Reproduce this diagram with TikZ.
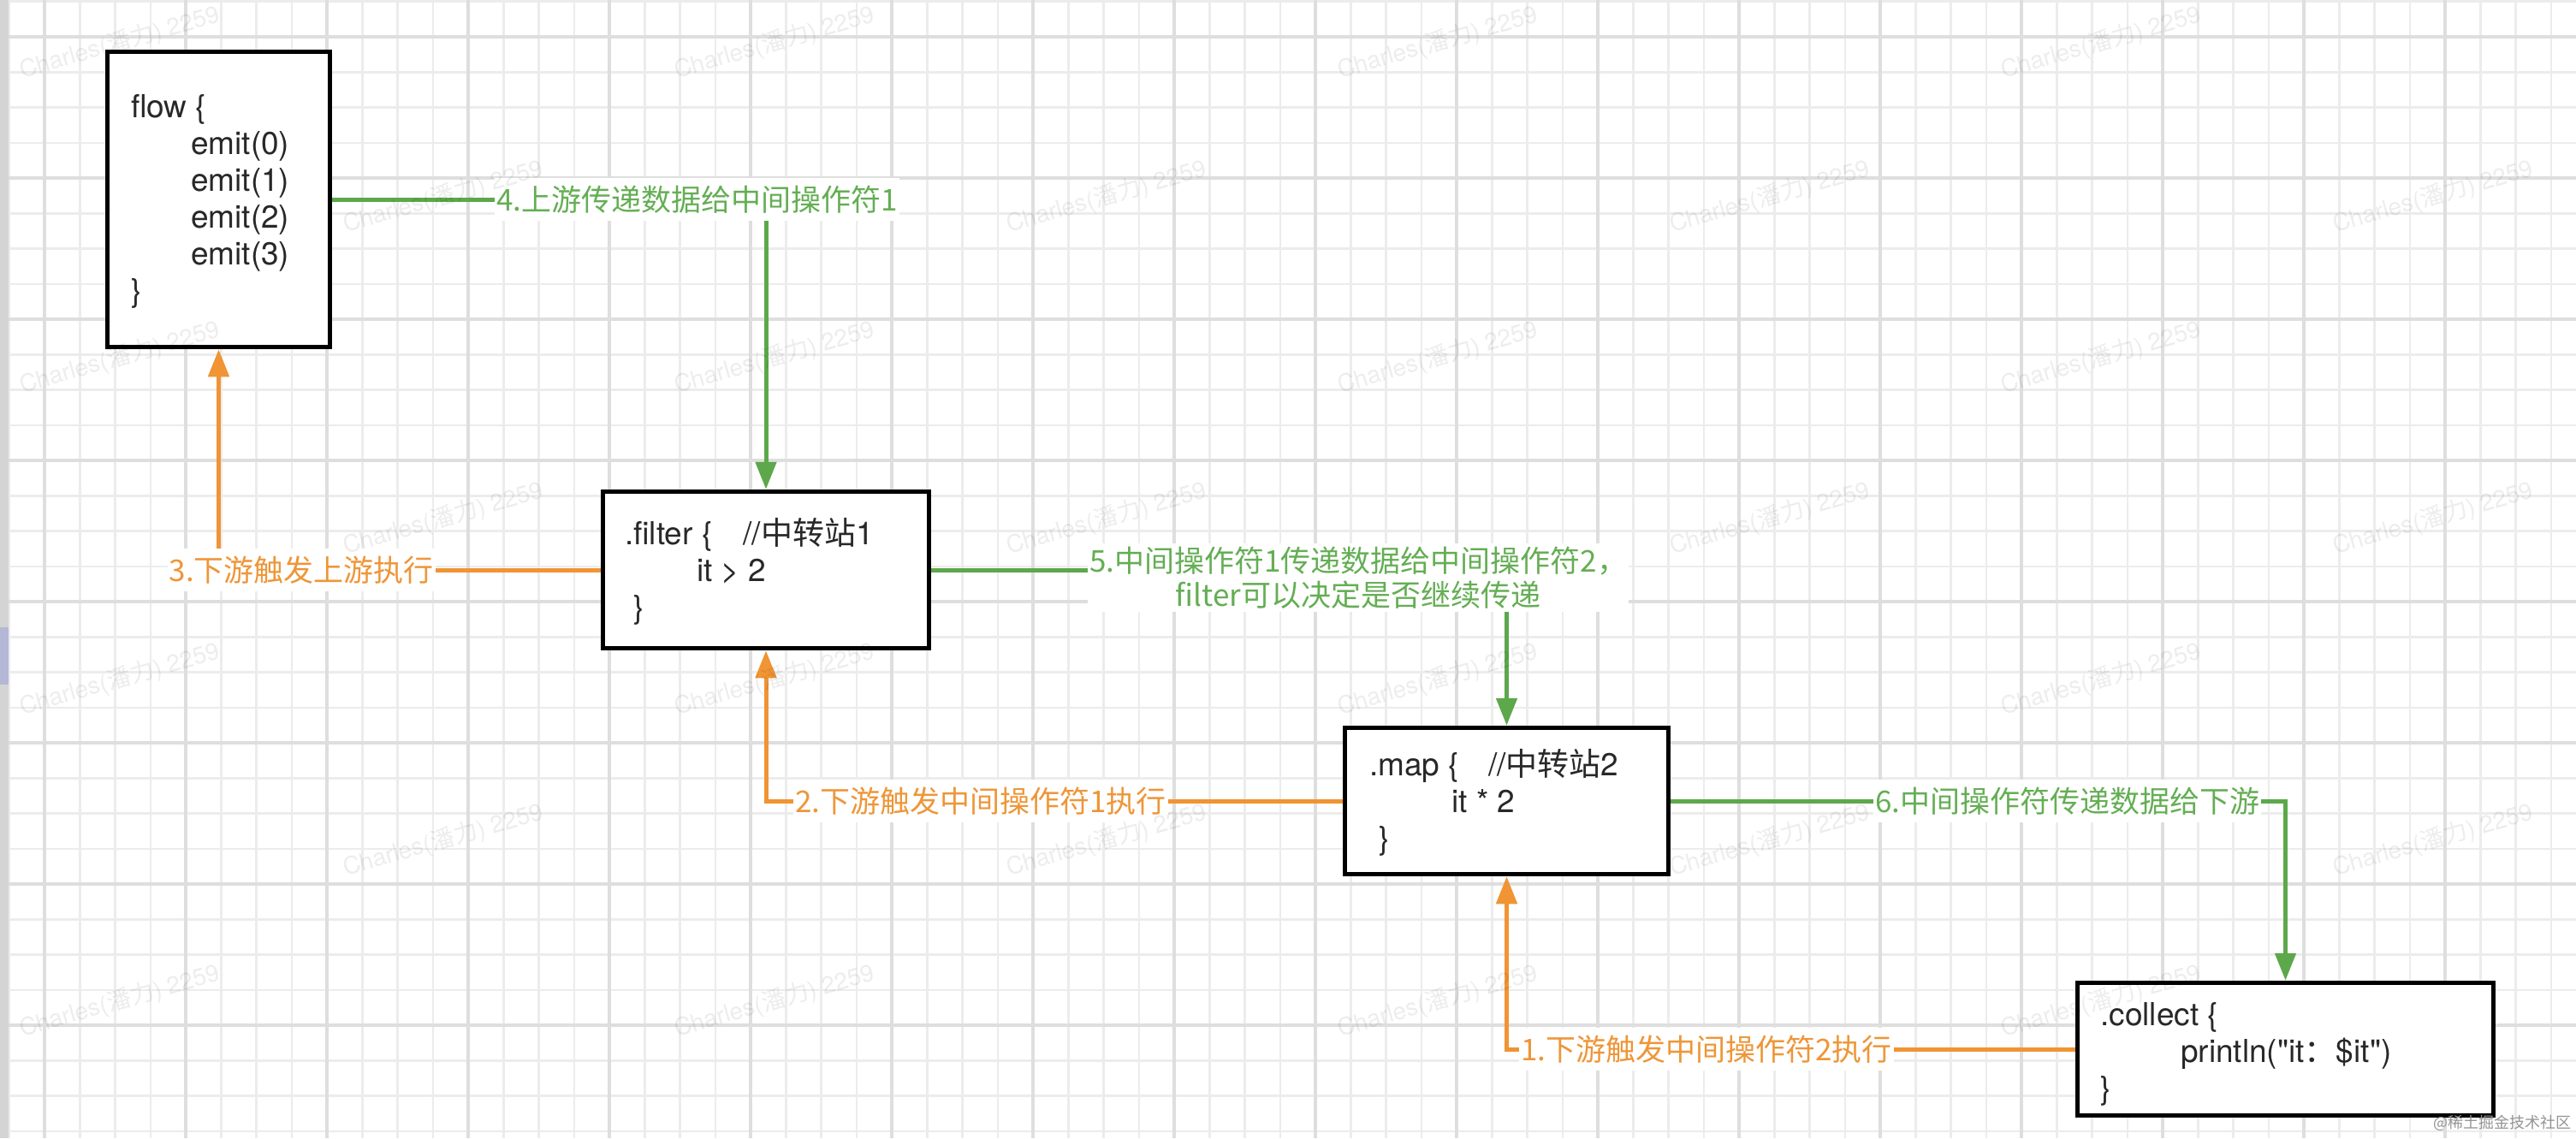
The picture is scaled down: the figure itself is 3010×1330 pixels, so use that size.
\documentclass[tikz,border=0pt]{standalone}
\usepackage{fontspec}
\setmainfont{TeX Gyre Heros}
\newfontfamily\cjk{Noto Sans CJK SC}
\font\qfont="TeX Gyre Heros" at 37pt
\usetikzlibrary{arrows.meta}
\definecolor{edgegreen}{RGB}{92,168,74}
\definecolor{edgeorange}{RGB}{240,148,52}
\definecolor{lblgreen}{RGB}{100,174,84}
\definecolor{lblorange}{RGB}{238,150,56}
\definecolor{gridminor}{RGB}{236,236,236}
\definecolor{gridmajor}{RGB}{222,222,222}
\definecolor{codetext}{RGB}{40,40,40}
\definecolor{stripgray}{RGB}{212,212,212}
\definecolor{stripblue}{RGB}{180,184,214}
\begin{document}
\begin{tikzpicture}[x=1pt, y=-1pt,
  codebox/.style={draw=black, line width=5.5pt, fill=white, inner sep=0pt},
  code/.style={anchor=base west, inner sep=0pt, text=codetext, font=\fontsize{37}{43}\selectfont},
  gline/.style={draw=edgegreen, line width=5pt, -{Triangle[width=24pt,length=32pt]}},
  oline/.style={draw=edgeorange, line width=5pt, -{Triangle[width=24pt,length=32pt]}},
  lbl/.style={fill=white, inner xsep=2pt, inner ysep=9pt, font=\cjk\fontsize{35}{40}\selectfont},
  wm/.style={text=black, text opacity=0.07, font=\fontsize{28}{30}\selectfont, rotate=16, inner sep=0pt},
]
\useasboundingbox (0,0) rectangle (3010,1330);
\clip (0,0) rectangle (3010,1330);
\fill[white] (0,0) rectangle (3010,1330);
% grid
\foreach \i in {0,...,72} \draw[gridminor, line width=2.5pt] ({10.75+41.25*\i},0) -- ({10.75+41.25*\i},1330);
\foreach \i in {0,...,32} \draw[gridminor, line width=2.5pt] (0,{1.75+41.25*\i}) -- (3010,{1.75+41.25*\i});
\foreach \i in {0,...,17} \draw[gridmajor, line width=3.5pt] ({52+165*\i},0) -- ({52+165*\i},1330);
\foreach \i in {0,...,7} \draw[gridmajor, line width=3.5pt] (0,{43+165*\i}) -- (3010,{43+165*\i});
% left strip
\fill[stripgray] (0,0) rectangle (10,1330);
\fill[stripblue] (0,733) rectangle (10,800);

% boxes
\node[codebox, minimum width=260pt, minimum height=345pt] (flow) at (255.5,233) {};
\node[codebox, minimum width=381pt, minimum height=183pt] (filter) at (895,666) {};
\node[codebox, minimum width=378pt, minimum height=171pt] (map) at (1760.5,936) {};
\node[codebox, minimum width=486pt, minimum height=155pt] (collect) at (2670.5,1226) {};

% box texts
\node[code] (flowtxt) at (153,137) {\vtop{\hbox{flow \{}\hbox{\kern70pt emit(0)}\hbox{\kern70pt emit(1)}\hbox{\kern70pt emit(2)}\hbox{\kern70pt emit(3)}\hbox{\}}}};
\node[code] (filtertxt) at (730,636) {\vtop{\hbox{.filter \{\hspace{36pt}//{\cjk 中转站}1}\hbox{\kern84pt it > 2}\hbox{\kern10pt\}}}};
\node[code] (maptxt) at (1600,906) {\vtop{\hbox{.map \{\hspace{34pt}//{\cjk 中转站}2}\hbox{\kern96pt it * 2}\hbox{\kern11pt\}}}};
\node[code] (collecttxt) at (2454,1198) {\vtop{\hbox{.collect \{}\hbox{\kern94pt{\qfont println("it}{\cjk ：}{\qfont\char36 it")}}\hbox{\}}}};

% connectors
\draw[gline] (flow.east) -| (filter.north);
\draw[oline] (filter.west) -| (flow.south);
\draw[gline] (filter.east) -| (map.north);
\draw[oline] (map.west) -| (filter.south);
\draw[gline] (map.east) -| (collect.north);
\draw[oline] (collect.west) -| (map.south);

% labels
\node[lbl, text=lblgreen, anchor=west] (l4) at (578,233) {4.上游传递数据给中间操作符1};
\node[lbl, text=lblorange, anchor=east] (l3) at (509,666) {3.下游触发上游执行};
\node[lbl, text=lblgreen, anchor=west, align=center, inner ysep=4pt] (l5) at (1271,675) {5.中间操作符1传递数据给中间操作符2，\\filter可以决定是否继续传递};
\node[lbl, text=lblorange, anchor=west] (l2) at (927,936) {2.下游触发中间操作符1执行};
\node[lbl, text=lblgreen, anchor=west] (l6) at (2189,936) {6.中间操作符传递数据给下游};
\node[lbl, text=lblorange, anchor=west] (l1) at (1775,1226) {1.下游触发中间操作符2执行};

% watermarks
\foreach \y [count=\r] in {50,418,794,1170} {
  \foreach \x [count=\c] in {140,905,1680,2455}
    \node[wm] (wma\r\c) at (\x,\y) {Charles({\cjk 潘力}) 2259};
}
\foreach \y [count=\r] in {230,606,982} {
  \foreach \x [count=\c] in {518,1293,2068,2843}
    \node[wm] (wmb\r\c) at (\x,\y) {Charles({\cjk 潘力}) 2259};
}
\node[anchor=east, inner sep=0pt, text=black!42, font=\cjk\fontsize{18}{20}\selectfont] (juejin) at (3005,1312) {@稀土掘金技术社区};
\end{tikzpicture}
\end{document}
